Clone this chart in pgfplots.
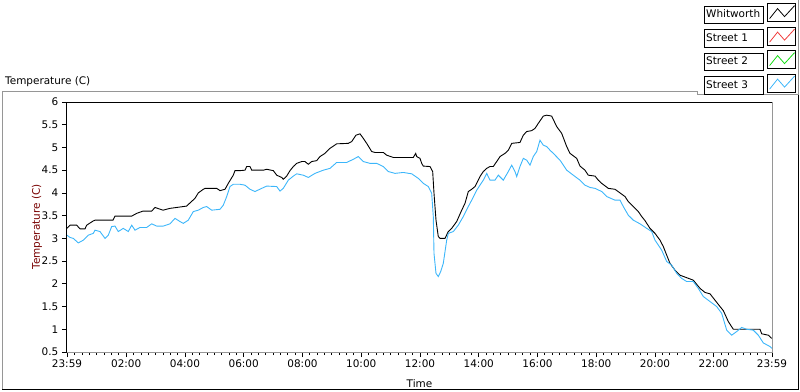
\documentclass[border=0pt]{standalone}
\usepackage{pgfplots}
\pgfplotsset{compat=1.18}
\usepackage{fontspec}
\setmainfont{DejaVu Sans}
\definecolor{lvblue}{RGB}{60,182,250}
\definecolor{lvred}{RGB}{240,60,60}
\definecolor{lvgreen}{RGB}{20,220,20}
\definecolor{lvmaroon}{RGB}{120,0,0}
\definecolor{lvgrey}{RGB}{150,150,150}
\newcommand\lgbox[1]{{\setlength\fboxsep{1.2bp}\setlength\fboxrule{0.8bp}\fbox{\rule[-4bp]{0pt}{14bp}\makebox[56bp][l]{#1}}}}
\begin{document}
\fontsize{10.5}{12}\selectfont
\begin{tikzpicture}
\path[use as bounding box] (0bp,0bp) rectangle (800bp,392bp);
\draw[lvgrey, line width=1bp] (2bp,2bp) -- (2bp,300bp) -- (697bp,300bp) -- (697bp,297bp) -- (798bp,297bp) -- (798bp,392bp);
\draw[black, line width=1bp] (2bp,2bp) -- (798bp,2bp) -- (798bp,297bp);
\node[anchor=west, inner sep=0pt] at (5bp,310bp) {Temperature (C)};
\begin{axis}[
  at={(67bp,40bp)}, anchor=south west, scale only axis,
  width=705bp, height=250bp,
  xmin=-0.0167, xmax=23.9833, ymin=0.5, ymax=6,
  axis line style={draw=none},
  xtick={-0.0167,2,4,6,8,10,12,14,16,18,20,22,23.9833},
  xticklabels={23:59,02:00,04:00,06:00,08:00,10:00,12:00,14:00,16:00,18:00,20:00,22:00,23:59},
  minor xtick={0.25,0.5,...,23.75},
  ytick={0.5,1,...,6},
  xtick pos=bottom, ytick pos=left,
  tick align=outside, major tick length=5bp, minor tick length=3bp,
  every tick/.style={black, line width=0.8bp},
  /pgf/number format/assume math mode=true,
  tick label style={font=\fontsize{10.5}{12}\selectfont},
  xticklabel style={yshift=1bp},
  xlabel={Time}, ylabel={Temperature (C)},
  xlabel style={at={(axis description cs:0.5,-0.128)}, anchor=center},
  ylabel style={at={(axis description cs:-0.0426,0.5)}, anchor=center, color=lvmaroon},
  legend plot pos=right,
  legend cell align=left,
  legend style={at={(0.9007,1.396)}, anchor=north west, draw=none, fill=none,
    row sep=4.7bp, column sep=1bp, inner sep=0pt, font=\fontsize{10.5}{12}\selectfont},
  legend image code/.code={
    \draw[black, line width=0.8bp, solid] (0bp,-9bp) rectangle (28bp,9bp);
    \draw[#1, line width=0.8bp] (2bp,-6bp) -- (10bp,4bp) -- (17bp,-4bp) -- (27bp,7bp);
  },
  after end axis/.code={
    \draw[black, line width=1bp] (rel axis cs:0,0) -- (rel axis cs:0,1) -- (rel axis cs:1,1);
    \draw[lvgrey, line width=1bp] (rel axis cs:1,1) -- (rel axis cs:1,0) -- (rel axis cs:0,0);
  },
]
\addplot[black, line width=0.9bp] coordinates {
(-0.017,3.22) (0.085,3.29) (0.313,3.29) (0.426,3.21) (0.596,3.21) (0.654,3.29)
(0.868,3.38) (0.936,3.40) (1.549,3.40) (1.617,3.49) (2.186,3.49) (2.356,3.55)
(2.570,3.60) (2.866,3.60) (2.979,3.68) (3.251,3.62) (3.489,3.66) (3.717,3.68)
(4.058,3.71) (4.170,3.78) (4.340,3.88) (4.453,4.00) (4.623,4.08) (4.681,4.10)
(5.079,4.10) (5.192,4.05) (5.362,4.08) (5.474,4.21) (5.644,4.39) (5.702,4.49)
(5.872,4.49) (6.043,4.50) (6.100,4.58) (6.213,4.58) (6.271,4.50) (6.666,4.50)
(6.781,4.52) (7.006,4.49) (7.122,4.39) (7.292,4.34) (7.346,4.30) (7.462,4.37)
(7.575,4.49) (7.687,4.58) (7.803,4.65) (7.973,4.69) (8.085,4.69) (8.198,4.63)
(8.313,4.69) (8.483,4.71) (8.596,4.80) (8.766,4.87) (8.936,4.98) (9.164,5.08)
(9.559,5.09) (9.675,5.13) (9.821,5.27) (9.958,5.30) (10.070,5.20) (10.186,5.09)
(10.356,4.91) (10.468,4.89) (10.751,4.89) (10.866,4.83) (11.091,4.78) (11.772,4.78)
(11.854,4.87) (11.888,4.80) (12.000,4.76) (12.058,4.65) (12.113,4.59) (12.341,4.58)
(12.432,4.47) (12.477,3.99) (12.545,3.40) (12.623,3.04) (12.681,3.00) (12.851,3.00)
(12.964,3.15) (13.079,3.22) (13.249,3.37) (13.420,3.62) (13.532,3.77) (13.645,4.03)
(13.760,4.08) (13.872,4.14) (14.043,4.36) (14.155,4.47) (14.271,4.54) (14.383,4.58)
(14.495,4.58) (14.611,4.69) (14.724,4.80) (14.894,4.87) (15.006,4.94) (15.122,5.09)
(15.404,5.11) (15.517,5.27) (15.632,5.35) (15.803,5.37) (15.915,5.42) (16.027,5.53)
(16.198,5.69) (16.313,5.71) (16.483,5.69) (16.653,5.46) (16.824,5.31) (16.994,5.02)
(17.106,4.87) (17.335,4.76) (17.447,4.59) (17.617,4.50) (17.730,4.39) (17.958,4.37)
(18.070,4.28) (18.186,4.21) (18.411,4.10) (18.639,4.08) (18.809,4.00) (18.979,3.92)
(19.091,3.81) (19.262,3.70) (19.432,3.59) (19.548,3.48) (19.660,3.39) (19.830,3.22)
(20.000,3.11) (20.171,2.96) (20.283,2.82) (20.399,2.63) (20.511,2.45) (20.681,2.30)
(20.851,2.19) (21.304,2.08) (21.532,1.90) (21.702,1.81) (21.873,1.78) (22.043,1.64)
(22.213,1.50) (22.326,1.41) (22.496,1.17) (22.666,1.00) (23.575,1.00) (23.633,0.90)
(23.858,0.87) (23.973,0.80)
};
\addlegendentry{\lgbox{Whitworth}}
\addlegendimage{lvred}
\addlegendentry{\lgbox{Street 1}}
\addlegendimage{lvgreen}
\addlegendentry{\lgbox{Street 2}}
\addplot[lvblue, line width=0.9bp] coordinates {
(-0.017,3.07) (0.085,3.02) (0.197,3.00) (0.368,2.90) (0.538,2.96) (0.708,3.07)
(0.878,3.11) (0.936,3.18) (1.106,3.15) (1.277,3.00) (1.389,3.07) (1.505,3.26)
(1.617,3.27) (1.729,3.15) (1.900,3.22) (2.070,3.15) (2.186,3.29) (2.298,3.18)
(2.468,3.24) (2.696,3.24) (2.866,3.32) (3.037,3.27) (3.261,3.27) (3.489,3.32)
(3.660,3.44) (3.830,3.37) (3.942,3.33) (4.112,3.40) (4.283,3.59) (4.453,3.62)
(4.623,3.68) (4.739,3.70) (4.909,3.62) (5.192,3.64) (5.304,3.73) (5.420,3.92)
(5.532,4.14) (5.644,4.19) (5.872,4.19) (6.043,4.17) (6.213,4.08) (6.383,4.03)
(6.611,4.10) (6.781,4.15) (7.122,4.14) (7.234,4.04) (7.346,4.10) (7.517,4.28)
(7.687,4.37) (7.803,4.42) (8.027,4.39) (8.198,4.34) (8.426,4.43) (8.708,4.50)
(8.936,4.54) (9.164,4.67) (9.505,4.67) (9.730,4.74) (9.900,4.80) (10.070,4.69)
(10.298,4.65) (10.526,4.65) (10.751,4.58) (10.921,4.47) (11.149,4.43) (11.432,4.45)
(11.718,4.42) (11.942,4.32) (12.113,4.21) (12.283,4.14) (12.398,3.99) (12.453,3.48)
(12.477,2.67) (12.545,2.23) (12.623,2.16) (12.705,2.27) (12.793,2.45) (12.909,2.96)
(12.964,3.11) (13.134,3.15) (13.304,3.29) (13.474,3.48) (13.645,3.70) (13.760,3.84)
(13.930,4.06) (14.155,4.28) (14.271,4.43) (14.383,4.28) (14.553,4.28) (14.666,4.39)
(14.836,4.28) (15.006,4.47) (15.122,4.61) (15.234,4.47) (15.292,4.36) (15.404,4.58)
(15.517,4.76) (15.632,4.72) (15.745,4.61) (15.857,4.80) (15.973,4.91) (16.085,5.16)
(16.198,5.05) (16.313,5.02) (16.426,4.94) (16.538,4.87) (16.766,4.72) (16.994,4.50)
(17.219,4.39) (17.447,4.28) (17.617,4.17) (17.788,4.12) (17.958,4.10) (18.186,4.03)
(18.356,3.92) (18.639,3.84) (18.809,3.84) (18.921,3.70) (19.091,3.51) (19.262,3.40)
(19.490,3.32) (19.718,3.22) (19.888,3.15) (20.000,2.96) (20.228,2.74) (20.399,2.49)
(20.569,2.41) (20.739,2.23) (20.909,2.12) (21.079,2.05) (21.304,2.05) (21.474,1.90)
(21.645,1.72) (21.873,1.61) (22.100,1.50) (22.271,1.35) (22.441,0.98) (22.611,0.87)
(22.781,0.95) (22.952,1.04) (23.122,1.00) (23.347,0.98) (23.517,0.87) (23.687,0.70)
(23.915,0.62) (23.983,0.58)
};
\addlegendentry{\lgbox{Street 3}}
\end{axis}
\end{tikzpicture}
\end{document}
